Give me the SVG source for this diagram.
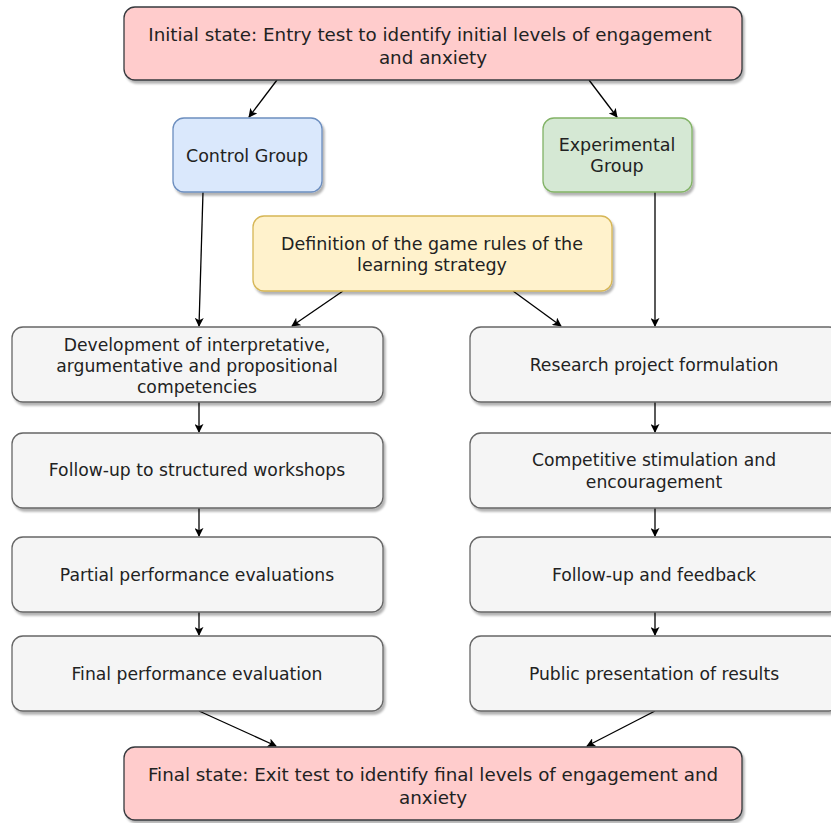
<svg xmlns="http://www.w3.org/2000/svg" width="831" height="823" viewBox="0 0 831 823">
<defs>
<filter id="sh" x="-5%" y="-5%" width="115%" height="130%">
<feDropShadow dx="2" dy="3" stdDeviation="1.2" flood-color="#000" flood-opacity="0.3"/>
</filter>
<marker id="ah" viewBox="0 0 10 10" refX="9" refY="5" markerWidth="9" markerHeight="9" markerUnits="userSpaceOnUse" orient="auto">
<path d="M0,0 L10,5 L0,10 L2.5,5 Z" fill="#000"/>
</marker>
</defs>
<style>
rect{stroke-width:1.3;filter:url(#sh)}
.g{fill:#f5f5f5;stroke:#666}
.p{fill:#ffcccc;stroke:#36393d}
.b{fill:#dae8fc;stroke:#6c8ebf}
.gr{fill:#d5e8d4;stroke:#82b366}
.y{fill:#fff2cc;stroke:#d6b656}
text{font-family:"DejaVu Sans","Verdana",sans-serif;font-size:17.2px;fill:#222;text-anchor:middle}
.big text{font-size:18.3px}
.col text{font-size:17.5px}
.c line{stroke:#000;stroke-width:1.3;marker-end:url(#ah)}
</style>
<g class="c" id="connectors">
<line x1="277" y1="80" x2="249" y2="117"/>
<line x1="589" y1="80" x2="617" y2="117"/>
<line x1="203" y1="192" x2="199" y2="326"/>
<line x1="655" y1="192" x2="655" y2="326"/>
<line x1="343" y1="291" x2="292" y2="326"/>
<line x1="513" y1="291" x2="561" y2="326"/>
<line x1="199" y1="402" x2="199" y2="432"/>
<line x1="199" y1="508" x2="199" y2="536"/>
<line x1="199" y1="612" x2="199" y2="635"/>
<line x1="655" y1="402" x2="655" y2="432"/>
<line x1="655" y1="508" x2="655" y2="536"/>
<line x1="655" y1="612" x2="655" y2="635"/>
<line x1="199" y1="711" x2="276" y2="746"/>
<line x1="655" y1="711" x2="587" y2="746"/>
</g>
<g id="initial" class="big"><rect class="p" x="124" y="7" width="618" height="73" rx="11"/><text x="430" y="41">Initial state: Entry test to identify initial levels of engagement</text><text x="433" y="64">and anxiety</text></g>
<g id="control" class="col"><rect class="b" x="173" y="118" width="149" height="74" rx="11"/><text x="247" y="162">Control Group</text></g>
<g id="experimental" class="col"><rect class="gr" x="543" y="118" width="149" height="74" rx="11"/><text x="617" y="151">Experimental</text><text x="617" y="172">Group</text></g>
<g id="definition" class="col"><rect class="y" x="253" y="216" width="359" height="75" rx="11"/><text x="432" y="250">Definition of the game rules of the</text><text x="432" y="271">learning strategy</text></g>
<g id="l1"><rect class="g" x="12" y="327" width="371" height="75" rx="11"/><text x="197" y="351">Development of interpretative,</text><text x="197" y="372">argumentative and propositional</text><text x="197" y="393">competencies</text></g>
<g id="l2"><rect class="g" x="12" y="433" width="371" height="75" rx="11"/><text x="197" y="476">Follow-up to structured workshops</text></g>
<g id="l3"><rect class="g" x="12" y="537" width="371" height="75" rx="11"/><text x="197" y="581">Partial performance evaluations</text></g>
<g id="l4"><rect class="g" x="12" y="636" width="371" height="75" rx="11"/><text x="197" y="680">Final performance evaluation</text></g>
<g id="r1"><rect class="g" x="470" y="327" width="370" height="75" rx="11"/><text x="654" y="371">Research project formulation</text></g>
<g id="r2"><rect class="g" x="470" y="433" width="370" height="75" rx="11"/><text x="654" y="466">Competitive stimulation and</text><text x="654" y="488">encouragement</text></g>
<g id="r3"><rect class="g" x="470" y="537" width="370" height="75" rx="11"/><text x="654" y="581">Follow-up and feedback</text></g>
<g id="r4"><rect class="g" x="470" y="636" width="370" height="75" rx="11"/><text x="654" y="680">Public presentation of results</text></g>
<g id="final" class="big"><rect class="p" x="124" y="747" width="618" height="73" rx="11"/><text x="433" y="781">Final state: Exit test to identify final levels of engagement and</text><text x="433" y="804">anxiety</text></g>
</svg>
